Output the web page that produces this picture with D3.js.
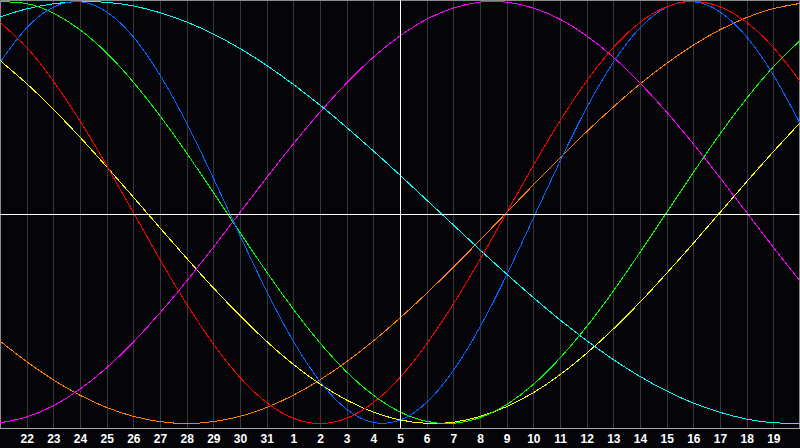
<!DOCTYPE html>
<html>
<head>
<meta charset="utf-8">
<script src="https://cdn.jsdelivr.net/npm/d3@7"></script>
<style>
  body { margin: 0; background: #050509; }
  svg { display: block; }
</style>
</head>
<body>
<svg id="chart" width="800" height="448"></svg>
<script>
// day labels under the grid lines (index 1..29)
var dayLabels = ["22","23","24","25","26","27","28","29","30","31","1","2","3","4","5","6","7","8","9","10","11","12","13","14","15","16","17","18","19"];

// daily values (-1..1), index 0..30
var blueValues = [0.712,0.875,0.973,0.999,0.951,0.832,0.652,0.423,0.163,-0.109,-0.373,-0.610,-0.801,-0.933,-0.995,-0.984,-0.900,-0.749,-0.543,-0.296,-0.027,0.243,0.496,0.712,0.875,0.973,0.999,0.951,0.832,0.652,0.423];
var redValues = [0.901,0.782,0.623,0.434,0.223,0.000,-0.223,-0.434,-0.623,-0.782,-0.901,-0.975,-1.000,-0.975,-0.901,-0.782,-0.623,-0.434,-0.223,0.000,0.223,0.434,0.623,0.782,0.901,0.975,1.000,0.975,0.901,0.782,0.623];
var greenValues = [0.999,0.990,0.945,0.866,0.756,0.618,0.458,0.282,0.095,-0.095,-0.282,-0.458,-0.618,-0.756,-0.866,-0.945,-0.990,-0.999,-0.972,-0.910,-0.815,-0.690,-0.541,-0.372,-0.189,0.000,0.189,0.372,0.541,0.690,0.815];
var cyanValues = [0.927,0.965,0.989,1.000,0.996,0.979,0.947,0.903,0.846,0.777,0.697,0.607,0.509,0.403,0.292,0.177,0.059,-0.059,-0.177,-0.292,-0.403,-0.509,-0.607,-0.697,-0.777,-0.846,-0.903,-0.947,-0.979,-0.996,-1.000];
var magentaValues = [-0.997,-0.969,-0.916,-0.837,-0.736,-0.614,-0.476,-0.325,-0.165,0.000,0.165,0.325,0.476,0.614,0.736,0.837,0.916,0.969,0.997,0.997,0.969,0.916,0.837,0.736,0.614,0.476,0.325,0.165,0.000,-0.165,-0.325];
var orangeValues = [-0.609,-0.707,-0.793,-0.866,-0.924,-0.966,-0.991,-1.000,-0.991,-0.966,-0.924,-0.866,-0.793,-0.707,-0.609,-0.500,-0.383,-0.259,-0.131,0.000,0.131,0.259,0.383,0.500,0.609,0.707,0.793,0.866,0.924,0.966,0.991];
var yellowValues = [0.720,0.611,0.489,0.357,0.217,0.073,-0.073,-0.217,-0.357,-0.489,-0.611,-0.720,-0.813,-0.889,-0.946,-0.983,-0.999,-0.994,-0.967,-0.920,-0.854,-0.769,-0.667,-0.552,-0.425,-0.288,-0.146,0.000,0.146,0.288,0.425];

var series = [
  {color: "#ff8000", values: orangeValues},
  {color: "#ffff00", values: yellowValues},
  {color: "#ff00ff", values: magentaValues},
  {color: "#00ffff", values: cyanValues},
  {color: "#00ff00", values: greenValues},
  {color: "#0066ff", values: blueValues},
  {color: "#ff0000", values: redValues}
];

var svg = d3.select("#chart"),
  width = 800,
  plotBottom = 428;

var x = d3.scaleLinear().domain([0, 30]).range([0, width]);
var y = d3.scaleLinear().domain([-1, 1]).range([423.5, 1.5]);

svg.append("rect")
  .attr("width", width).attr("height", 448)
  .attr("fill", "#050509");

// vertical day grid
svg.append("g")
  .selectAll("line")
  .data(d3.range(1, 30))
  .enter().append("line")
  .attr("x1", d => Math.round(x(d)) + 0.5)
  .attr("x2", d => Math.round(x(d)) + 0.5)
  .attr("y1", 0).attr("y2", plotBottom)
  .attr("stroke", "#38383c")
  .attr("stroke-width", 1);

// frame + bottom axis line
svg.append("path")
  .attr("d", "M0.5," + plotBottom + "V0.5H799.5V" + plotBottom)
  .attr("fill", "none")
  .attr("stroke", "#8c8c8c");
svg.append("line")
  .attr("x1", 0).attr("x2", width)
  .attr("y1", plotBottom + 0.5).attr("y2", plotBottom + 0.5)
  .attr("stroke", "#a8a8a8");

// the curves
var line = d3.line()
  .x((d, i) => x(i))
  .y(d => y(d))
  .curve(d3.curveNatural);

svg.append("g")
  .selectAll("path")
  .data(series)
  .enter().append("path")
  .attr("d", d => line(d.values))
  .attr("fill", "none")
  .attr("stroke", d => d.color)
  .attr("stroke-width", 1)
  .attr("shape-rendering", "crispEdges");

// white cross through the middle (today)
svg.append("line")
  .attr("x1", x(15) + 0.5).attr("x2", x(15) + 0.5)
  .attr("y1", 0).attr("y2", plotBottom)
  .attr("stroke", "#ffffff");
svg.append("line")
  .attr("x1", 0).attr("x2", width)
  .attr("y1", 214.5).attr("y2", 214.5)
  .attr("stroke", "#ffffff");

// day labels
svg.append("g")
  .selectAll("text")
  .data(dayLabels)
  .enter().append("text")
  .attr("x", (d, i) => x(i + 1) + 0.5)
  .attr("y", 443)
  .attr("text-anchor", "middle")
  .attr("fill", "#ffffff")
  .style("font-family", "'Liberation Sans', Arial, sans-serif")
  .style("font-weight", "bold")
  .style("font-size", "12px")
  .text(d => d);
</script>
</body>
</html>
